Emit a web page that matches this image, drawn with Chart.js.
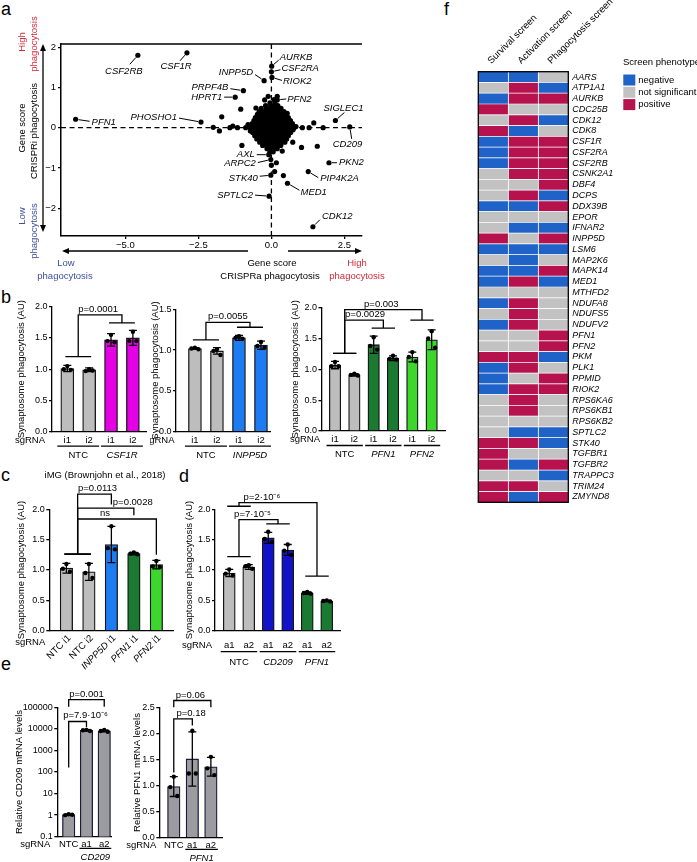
<!DOCTYPE html>
<html lang="en">
<head>
<meta charset="UTF-8">
<meta name="viewport" content="width=device-width, initial-scale=1.0">
<title>Microglia phagocytosis screens</title>
<script src="https://cdn.jsdelivr.net/npm/chart.js"></script>
<style>
    body { margin: 0; background: #fff; font-family: "Liberation Sans", Arial, sans-serif; }
    #page { position: relative; width: 697px; height: 862px; overflow: hidden; background: #fff; }
    #page canvas { position: absolute; }
    .tag { position: absolute; font-size: 18px; line-height: 18px; color: #000; }
</style>
</head>
<body>
<div id="page">
    <div class="tag" style="left:1px; top:0px;">a</div>
    <div class="tag" style="left:1px; top:288px;">b</div>
    <div class="tag" style="left:1px; top:466px;">c</div>
    <div class="tag" style="left:179px; top:467px;">d</div>
    <div class="tag" style="left:1px; top:655px;">e</div>
    <div class="tag" style="left:444px; top:0px;">f</div>
</div>

<script>
// ---------- a: CRISPRa vs CRISPRi phagocytosis gene scores ----------
const aGenes = ['PFN1', 'CSF2RB', 'CSF1R', 'PHOSHO1', 'PRPF4B', 'HPRT1', 'INPP5D', 'AURKB', 'CSF2RA', 'RIOK2', 'PFN2',
                'SIGLEC1', 'CD209', 'AXL', 'ARPC2', 'STK40', 'SPTLC2', 'MED1', 'PIP4K2A', 'PKN2', 'CDK12'];
const aGeneX = [-6.7, -4.57, -2.89, -2.41, -0.96, -1.24, -0.25, 0.01, 0.0, 0.02, 0.2,
                2.19, 2.68, -0.09, -0.02, -0.02, -0.08, 0.55, 1.26, 1.97, 1.42];
const aGeneY = [0.21, 1.80, 1.86, 0.14, 0.92, 0.76, 1.17, 1.53, 1.39, 1.25, 0.69,
                0.18, 0.02, -0.67, -0.79, -1.18, -1.70, -1.38, -1.09, -0.87, -2.46];
// unlabelled genes [CRISPRa score, CRISPRi score]
const aOther = [
    [-0.05, 0.62], [0.12, 0.62],
    [-0.2, 0.55], [-0.02, 0.55], [0.1, 0.55], [0.22, 0.55],
    [-0.35, 0.48], [-0.18, 0.48], [-0.05, 0.48], [0.08, 0.48], [0.2, 0.48], [0.33, 0.48],
    [-0.42, 0.40], [-0.3, 0.40], [-0.17, 0.40], [-0.04, 0.40], [0.07, 0.40], [0.19, 0.40], [0.31, 0.40], [0.43, 0.40],
    [-0.48, 0.33], [-0.36, 0.33], [-0.22, 0.33], [-0.1, 0.33], [0.02, 0.33], [0.14, 0.33], [0.27, 0.33], [0.4, 0.33], [0.5, 0.33],
    [-0.55, 0.25], [-0.42, 0.25], [-0.29, 0.25], [-0.16, 0.25], [-0.04, 0.25], [0.09, 0.25], [0.21, 0.25], [0.34, 0.25], [0.46, 0.25], [0.58, 0.25],
    [-0.6, 0.18], [-0.47, 0.18], [-0.35, 0.18], [-0.22, 0.18], [-0.1, 0.18], [0.03, 0.18], [0.15, 0.18], [0.28, 0.18], [0.4, 0.18], [0.53, 0.18], [0.65, 0.18],
    [-0.66, 0.10], [-0.52, 0.10], [-0.4, 0.10], [-0.27, 0.10], [-0.14, 0.10], [-0.02, 0.10], [0.1, 0.10], [0.23, 0.10], [0.35, 0.10], [0.48, 0.10], [0.6, 0.10], [0.72, 0.10],
    [-0.75, 0.03], [-0.6, 0.03], [-0.46, 0.03], [-0.33, 0.03], [-0.2, 0.03], [-0.07, 0.03], [0.05, 0.03], [0.18, 0.03], [0.31, 0.03], [0.44, 0.03], [0.57, 0.03], [0.7, 0.03], [0.84, 0.03],
    [-0.7, -0.05], [-0.56, -0.05], [-0.43, -0.05], [-0.3, -0.05], [-0.17, -0.05], [-0.05, -0.05], [0.08, -0.05], [0.21, -0.05], [0.34, -0.05], [0.47, -0.05], [0.6, -0.05], [0.74, -0.05],
    [-0.64, -0.12], [-0.5, -0.12], [-0.37, -0.12], [-0.24, -0.12], [-0.11, -0.12], [0.01, -0.12], [0.14, -0.12], [0.27, -0.12], [0.4, -0.12], [0.53, -0.12], [0.66, -0.12],
    [-0.57, -0.2], [-0.44, -0.2], [-0.31, -0.2], [-0.18, -0.2], [-0.06, -0.2], [0.07, -0.2], [0.2, -0.2], [0.33, -0.2], [0.46, -0.2], [0.58, -0.2],
    [-0.5, -0.28], [-0.37, -0.28], [-0.24, -0.28], [-0.12, -0.28], [0.01, -0.28], [0.14, -0.28], [0.27, -0.28], [0.4, -0.28], [0.52, -0.28],
    [-0.4, -0.36], [-0.28, -0.36], [-0.15, -0.36], [-0.03, -0.36], [0.1, -0.36], [0.22, -0.36], [0.35, -0.36], [0.46, -0.36],
    [-0.3, -0.44], [-0.17, -0.44], [-0.05, -0.44], [0.08, -0.44], [0.2, -0.44], [0.32, -0.44],
    [-0.15, -0.52], [-0.02, -0.52], [0.1, -0.52], [0.2, -0.52],
    [-0.05, -0.6], [0.06, -0.6],
    [-1.99, 0.01], [-1.78, -0.08], [-1.70, 0.27], [-1.42, 0.0], [-1.32, 0.04], [-1.16, 0.0], [-1.05, 0.46], [-1.01, -0.44],
    [-0.88, 0.0], [-0.8, 0.08], [-0.72, -0.08], [-0.53, 0.49], [-0.23, 0.69], [-0.11, 0.78], [0.09, 0.7], [0.2, 0.78],
    [0.48, -0.08], [0.54, 0.36], [0.65, 0.16], [0.73, -0.36], [0.78, 0.0], [1.03, -0.49], [1.06, 0.0], [1.29, 0.0],
    [1.45, 0.12], [1.57, -0.46], [1.77, 0.0], [0.0, -0.93], [0.17, -0.87], [0.11, -1.09], [0.41, -1.19], [0.03, -0.5], [0.37, -0.58]
];
const aXTicks = [-5, -2.5, 0, 2.5];
const aYTicks = [2, 1, 0, -1, -2];

// ---------- b: synaptosome phagocytosis, CRISPRi ----------
const b1Labels = ['i1', 'i2', 'i1', 'i2'];
const b1Means = [1.01, 0.99, 1.47, 1.50];
const b1Sd = [0.05, 0.03, 0.10, 0.12];
const b1Pts = [[1.05, 1.00, 0.99], [1.00, 0.97, 0.98], [1.55, 1.45, 1.43], [1.60, 1.45, 1.45]];
const b1Groups = [['NTC', 0, 1], ['CSF1R', 2, 3]];
const b1P = ['p=0.0001'];

const b2Labels = ['i1', 'i2', 'i1', 'i2'];
const b2Means = [1.02, 0.99, 1.15, 1.06];
const b2Sd = [0.01, 0.04, 0.03, 0.05];
const b2Pts = [[1.03, 1.02, 1.01], [1.01, 0.99, 0.94], [1.17, 1.15, 1.14], [1.10, 1.05, 1.03]];
const b2Groups = [['NTC', 0, 1], ['INPP5D', 2, 3]];
const b2P = ['p=0.0055'];

const b3Labels = ['i1', 'i2', 'i1', 'i2', 'i1', 'i2'];
const b3Means = [1.07, 0.91, 1.40, 1.18, 1.20, 1.48];
const b3Sd = [0.06, 0.02, 0.14, 0.04, 0.08, 0.16];
const b3Pts = [[1.12, 1.05, 1.05], [0.93, 0.91, 0.90], [1.52, 1.38, 1.32], [1.22, 1.17, 1.16], [1.28, 1.20, 1.13], [1.62, 1.50, 1.35]];
const b3Groups = [['NTC', 0, 1], ['PFN1', 2, 3], ['PFN2', 4, 5]];
const b3P = ['p=0.0029', 'p=0.003'];

// ---------- c: iMG ----------
const cTitle = 'iMG (Brownjohn et al., 2018)';
const cLabels = ['NTC i1', 'NTC i2', 'INPP5D i1', 'PFN1 i1', 'PFN2 i1'];
const cMeans = [1.03, 0.97, 1.42, 1.27, 1.09];
const cSd = [0.08, 0.14, 0.30, 0.02, 0.07];
const cPts = [[1.10, 1.02, 0.97], [1.10, 0.95, 0.87], [1.72, 1.36, 1.34], [1.29, 1.27, 1.26], [1.15, 1.06, 1.05]];
const cP = ['p=0.0113', 'p=0.0028', 'ns'];

// ---------- d: CRISPRa ----------
const dLabels = ['a1', 'a2', 'a1', 'a2', 'a1', 'a2'];
const dMeans = [0.95, 1.05, 1.53, 1.33, 0.62, 0.49];
const dSd = [0.06, 0.04, 0.09, 0.09, 0.02, 0.01];
const dPts = [[1.01, 0.94, 0.91], [1.08, 1.06, 1.02], [1.63, 1.51, 1.46], [1.42, 1.32, 1.25], [0.64, 0.62, 0.61], [0.50, 0.49, 0.48]];
const dGroups = [['NTC', 0, 1], ['CD209', 2, 3], ['PFN1', 4, 5]];
const dP = ['p=7·10⁻⁵', 'p=2·10⁻⁶'];

// ---------- e: mRNA levels ----------
const e1Labels = ['NTC', 'a1', 'a2'];
const e1Means = [1.05, 8500, 8000];
const e1Sd = [0.05, 500, 700];
const e1Pts = [[1.10, 1.00, 1.05], [9000, 8600, 8000], [8800, 7900, 7300]];
const e1Groups = [['CD209', 1, 2]];
const e1P = ['p=7.9·10⁻⁶', 'p=0.001'];

const e2Labels = ['NTC', 'a1', 'a2'];
const e2Means = [0.98, 1.51, 1.36];
const e2Sd = [0.19, 0.52, 0.18];
const e2Pts = [[1.17, 0.97, 0.80], [2.05, 1.23, 1.23], [1.55, 1.33, 1.20]];
const e2Groups = [['PFN1', 1, 2]];
const e2P = ['p=0.18', 'p=0.06'];

// ---------- f: screen phenotypes (-1 negative, 0 not significant, 1 positive) ----------
const fScreens = ['Survival screen', 'Activation screen', 'Phagocytosis screen'];
const fGenes = ['AARS', 'ATP1A1', 'AURKB', 'CDC25B', 'CDK12', 'CDK8', 'CSF1R', 'CSF2RA', 'CSF2RB', 'CSNK2A1',
                'DBF4', 'DCPS', 'DDX39B', 'EPOR', 'IFNAR2', 'INPP5D', 'LSM6', 'MAP2K6', 'MAPK14', 'MED1',
                'MTHFD2', 'NDUFA8', 'NDUFS5', 'NDUFV2', 'PFN1', 'PFN2', 'PKM', 'PLK1', 'PPMID', 'RIOK2',
                'RPS6KA6', 'RPS6KB1', 'RPS6KB2', 'SPTLC2', 'STK40', 'TGFBR1', 'TGFBR2', 'TRAPPC3', 'TRIM24', 'ZMYND8'];
const fSurvival = [-1, 0, -1, 1, 0, 1, -1, -1, -1, 0, 0, 0, -1, 0, 0, 1, -1, 0, -1, -1,
                   0, -1, 0, -1, 0, 0, 1, -1, -1, -1, 0, 0, 0, 0, 1, 1, 1, 0, 1, 1];
const fActivation = [-1, 1, 1, 0, 1, -1, 1, 1, 1, 1, 0, 1, -1, 0, -1, 0, -1, -1, -1, 1,
                     0, 1, 1, 1, 0, 0, 1, 1, 0, 1, 1, 1, 0, -1, 1, 0, -1, 0, 1, -1];
const fPhagocytosis = [0, -1, 1, 0, -1, 0, 1, 1, 1, 1, 1, -1, 1, 0, -1, 1, -1, 0, 1, -1,
                       0, 0, 0, 0, 1, 1, -1, 0, 1, 1, 0, 0, 0, -1, -1, 0, 1, -1, 0, 1];
const fLegend = ['negative', 'not significant', 'positive'];

// ================= drawing =================
const FONT = '"Liberation Sans", Arial, sans-serif';
Chart.defaults.font.family = FONT;
Chart.defaults.font.size = 9.5;
Chart.defaults.color = '#000';

const RED = '#d42a3a', BLUE = '#3e4e9c';
const GRAY = '#bdbdbd';
const heatColor = ['#1f62c8', '#c2c2c2', '#b5124e'];

function addCanvas(x, y, w, h) {
    const c = document.createElement('canvas');
    c.width = w; c.height = h;
    c.style.left = x + 'px'; c.style.top = y + 'px';
    c.style.width = w + 'px'; c.style.height = h + 'px';
    document.getElementById('page').appendChild(c);
    return c;
}

function txt(ctx, s, x, y, o) {
    o = o || {};
    ctx.save();
    ctx.font = (o.italic ? 'italic ' : '') + (o.size || 9.5) + 'px ' + FONT;
    ctx.fillStyle = o.color || '#000';
    ctx.textAlign = o.align || 'center';
    ctx.textBaseline = o.base || 'middle';
    ctx.translate(x, y);
    if (o.rot) ctx.rotate(o.rot);
    ctx.fillText(s, 0, 0);
    ctx.restore();
}

function arrow(ctx, x1, y1, x2, y2) {
    const a = Math.atan2(y2 - y1, x2 - x1), c = Math.cos(a), s = Math.sin(a);
    ctx.beginPath(); ctx.moveTo(x1, y1); ctx.lineTo(x2 - c * 4, y2 - s * 4); ctx.stroke();
    ctx.beginPath(); ctx.moveTo(x2, y2);
    ctx.lineTo(x2 - c * 7 + s * 3, y2 - s * 7 - c * 3);
    ctx.lineTo(x2 - c * 7 - s * 3, y2 - s * 7 + c * 3);
    ctx.closePath(); ctx.fill();
}

const minus = s => String(s).replace('-', '−');

// ---------- panel a ----------
// label placement: text offset, alignment, end of leader line (px from point)
const aLabelPos = {
    PFN1: [16, 3, 'left', 14, 2], CSF2RB: [-14, 16, 'center', -8, 9], CSF1R: [-11, 14, 'center', -7, 8],
    PHOSHO1: [-24, -5, 'right', -22, -4], PRPF4B: [-15, -3, 'right', -13, -2], HPRT1: [-13, 0, 'right', -11, 0],
    INPP5D: [-11, -8, 'right', -9, -6], AURKB: [8, -9, 'left', 7, -6], CSF2RA: [10, -3, 'left', 9, -2],
    RIOK2: [11, 4, 'left', 10, 3], PFN2: [10, -1, 'left', 9, -1], SIGLEC1: [-12, -12, 'left', 9, -8],
    CD209: [-17, 17, 'left', 2, 12], AXL: [-14, 0, 'right', -12, 0], ARPC2: [-15, 4, 'right', -13, 3],
    STK40: [-13, 3, 'right', -11, 1], SPTLC2: [-16, -1, 'right', -14, -1], MED1: [13, 9, 'left', 12, 7],
    PIP4K2A: [12, 7, 'left', 10, 6], PKN2: [10, 0, 'left', 8, 0], CDK12: [9, -10, 'left', 7, -7]
};

const aDecor = {
    id: 'aDecor',
    beforeDatasetsDraw(chart) {
        const { ctx, chartArea: ca, scales: { x, y } } = chart;
        const x0 = x.getPixelForValue(0), y0 = y.getPixelForValue(0);
        ctx.save();
        ctx.strokeStyle = '#000'; ctx.lineWidth = 1.3; ctx.setLineDash([5, 3.5]);
        ctx.beginPath();
        ctx.moveTo(x0, ca.top); ctx.lineTo(x0, ca.bottom);
        ctx.moveTo(ca.left, y0); ctx.lineTo(ca.right, y0);
        ctx.stroke();
        ctx.restore();
    },
    afterDraw(chart) {
        const { ctx, chartArea: ca, scales: { x, y } } = chart;
        ctx.save();
        ctx.strokeStyle = '#000'; ctx.fillStyle = '#000'; ctx.lineWidth = 1.5;
        // top frame line
        ctx.beginPath(); ctx.moveTo(ca.left, ca.top); ctx.lineTo(ca.right, ca.top); ctx.stroke();

        // gene labels with leader lines
        ctx.lineWidth = 1;
        aGenes.forEach((g, i) => {
            const lp = aLabelPos[g];
            const px = x.getPixelForValue(aGeneX[i]), py = y.getPixelForValue(aGeneY[i]);
            const len = Math.hypot(lp[3], lp[4]);
            ctx.beginPath();
            ctx.moveTo(px + lp[3] / len * 3, py + lp[4] / len * 3);
            ctx.lineTo(px + lp[3], py + lp[4]);
            ctx.stroke();
            txt(ctx, g, px + lp[0], py + lp[1], { italic: true, align: lp[2] });
        });

        // axis arrows
        ctx.lineWidth = 1.3;
        arrow(ctx, 43, 138, 43, ca.top);
        arrow(ctx, 43, 138, 43, ca.bottom - 4);
        arrow(ctx, 248, 251, ca.left + 1, 251);
        arrow(ctx, 288, 251, ca.right, 251);
        ctx.restore();

        const up = -Math.PI / 2;
        txt(ctx, 'High', 22, 42, { rot: up, color: RED });
        txt(ctx, 'phagocytosis', 34, 44, { rot: up, color: RED });
        txt(ctx, 'Gene score', 22, 128, { rot: up });
        txt(ctx, 'CRISPRi phagocytosis', 34, 131, { rot: up });
        txt(ctx, 'Low', 22, 216, { rot: up, color: BLUE });
        txt(ctx, 'phagocytosis', 34, 231, { rot: up, color: BLUE });
        txt(ctx, 'Low', 66, 263, { color: BLUE });
        txt(ctx, 'phagocytosis', 65, 276, { color: BLUE });
        txt(ctx, 'Gene score', 272, 263);
        txt(ctx, 'CRISPRa phagocytosis', 270, 276);
        txt(ctx, 'High', 357, 263, { color: RED });
        txt(ctx, 'phagocytosis', 357, 276, { color: RED });
    }
};

new Chart(addCanvas(0, 0, 395, 300), {
    type: 'scatter',
    data: {
        datasets: [
            { data: aOther.map(p => ({ x: p[0], y: p[1] })), pointRadius: 2.6, backgroundColor: '#000', borderWidth: 0 },
            { data: aGenes.map((g, i) => ({ x: aGeneX[i], y: aGeneY[i] })), pointRadius: 2.6, backgroundColor: '#000', borderWidth: 0 }
        ]
    },
    options: {
        responsive: false, animation: false, events: [],
        layout: { padding: { top: 44, right: 33, left: 0, bottom: 0 } },
        plugins: { legend: { display: false }, tooltip: { enabled: false } },
        scales: {
            x: {
                type: 'linear', min: -7.2, max: 3.1,
                afterFit: s => { s.height = 64; },
                afterBuildTicks: s => { s.ticks = aXTicks.map(v => ({ value: v })); },
                ticks: { callback: v => minus(v.toFixed(1)), padding: 1, maxRotation: 0 },
                grid: { drawOnChartArea: false, tickLength: 3, color: '#000', lineWidth: 1.3 },
                border: { color: '#000', width: 1.5 }
            },
            y: {
                type: 'linear', min: -2.69, max: 2.08,
                afterFit: s => { s.width = 61; },
                afterBuildTicks: s => { s.ticks = aYTicks.map(v => ({ value: v })); },
                ticks: { callback: v => minus(v), padding: 2 },
                grid: { drawOnChartArea: false, tickLength: 3, color: '#000', lineWidth: 1.3 },
                border: { color: '#000', width: 1.5 }
            }
        }
    },
    plugins: [aDecor]
});

// ---------- bar panels ----------
function drawBracket(ctx, x, y, b, text) {
    const xl1 = x.getPixelForValue(b.l[0]) - 2, xl2 = x.getPixelForValue(b.l[1]) + 2;
    const xr1 = x.getPixelForValue(b.r[0]) - 2, xr2 = x.getPixelForValue(b.r[1]) + 2;
    const xl = (xl1 + xl2) / 2, xr = (xr1 + xr2) / 2;
    const yl = y.getPixelForValue(b.yl), yr = y.getPixelForValue(b.yr), yt = y.getPixelForValue(b.top);
    ctx.beginPath();
    if (b.l[0] !== b.l[1]) { ctx.moveTo(xl1, yl); ctx.lineTo(xl2, yl); }
    ctx.moveTo(xl, yl); ctx.lineTo(xl, yt); ctx.lineTo(xr, yt); ctx.lineTo(xr, yr);
    if (b.r[0] !== b.r[1]) { ctx.moveTo(xr1, yr); ctx.lineTo(xr2, yr); }
    ctx.stroke();
    txt(ctx, text, (xl + xr) / 2 + (b.dx || 0), yt - 3, { base: 'alphabetic' });
}

function barDecor(p) {
    return {
        id: 'barDecor',
        afterDatasetsDraw(chart) {
            const { ctx, scales: { x, y } } = chart;
            ctx.save();
            ctx.strokeStyle = '#000'; ctx.fillStyle = '#000'; ctx.lineWidth = 1.3;
            p.means.forEach((m, i) => {
                const cx = x.getPixelForValue(i);
                const yHi = y.getPixelForValue(m + p.sd[i]), yLo = y.getPixelForValue(m - p.sd[i]);
                ctx.beginPath();
                ctx.moveTo(cx, yLo); ctx.lineTo(cx, yHi);
                ctx.moveTo(cx - 4, yHi); ctx.lineTo(cx + 4, yHi);
                ctx.moveTo(cx - 4, yLo); ctx.lineTo(cx + 4, yLo);
                ctx.stroke();
                p.pts[i].forEach((v, k) => {
                    ctx.beginPath();
                    ctx.arc(cx + [0, -3.5, 3.5][k], y.getPixelForValue(v), 2.2, 0, 2 * Math.PI);
                    ctx.fill();
                });
            });
            ctx.restore();
        },
        afterDraw(chart) {
            const { ctx, chartArea: ca, scales: { x, y } } = chart;
            ctx.save();
            ctx.strokeStyle = '#000'; ctx.lineWidth = 1.3;
            p.brackets.forEach((b, i) => drawBracket(ctx, x, y, b, p.pvals[i]));

            if (p.rotLabels) {
                txt(ctx, 'sgRNA', ca.left - p.sgDx, ca.bottom + 12, { align: 'right' });
                p.labels.forEach((l, i) => {
                    const parts = l.split(' ');
                    ctx.save();
                    ctx.translate(x.getPixelForValue(i) + 3, ca.bottom + 6);
                    ctx.rotate(-Math.PI / 4);
                    ctx.fillStyle = '#000';
                    ctx.textBaseline = 'middle'; ctx.textAlign = 'right';
                    ctx.font = '9.5px ' + FONT;
                    ctx.fillText(' ' + parts[1], 0, 0);
                    const w = ctx.measureText(' ' + parts[1]).width;
                    ctx.font = (parts[0] === 'NTC' ? '' : 'italic ') + '9.5px ' + FONT;
                    ctx.fillText(parts[0], -w, 0);
                    ctx.restore();
                });
            } else {
                txt(ctx, 'sgRNA', ca.left - p.sgDx, ca.bottom + p.tickPad + 5.7, { align: 'right' });
                p.groups.forEach(g => {
                    const x1 = x.getPixelForValue(g[1]) - p.grpW, x2 = x.getPixelForValue(g[2]) + p.grpW;
                    ctx.beginPath();
                    ctx.moveTo(x1, ca.bottom + p.grpLine); ctx.lineTo(x2, ca.bottom + p.grpLine);
                    ctx.stroke();
                    txt(ctx, g[0], (x1 + x2) / 2, ca.bottom + p.grpText, { italic: g[0] !== 'NTC', base: 'top' });
                });
            }
            ctx.restore();
            if (p.topText) txt(ctx, p.topText, p.topTextPos[0], p.topTextPos[1]);
        }
    };
}

function barPanel(p) {
    const [bx, by, bw, bh] = p.box;
    const [al, at, ar, ab] = p.area;
    return new Chart(addCanvas(bx, by, bw, bh), {
        type: 'bar',
        data: {
            datasets: [{
                data: p.means.map((v, i) => ({ x: i, y: v })),
                backgroundColor: p.colors,
                borderColor: p.edge || '#161616',
                borderWidth: 1.3,
                barThickness: p.barW
            }]
        },
        options: {
            responsive: false, animation: false, events: [],
            layout: { padding: { top: at - by, right: bx + bw - ar, left: 0, bottom: 0 } },
            plugins: { legend: { display: false }, tooltip: { enabled: false } },
            scales: {
                x: {
                    type: 'linear', offset: false, min: p.xRange[0], max: p.xRange[1],
                    afterFit: s => { s.height = by + bh - ab; },
                    afterBuildTicks: s => { s.ticks = p.labels.map((l, i) => ({ value: i })); },
                    ticks: { display: !p.rotLabels, callback: v => p.labels[v], padding: p.tickPad, maxRotation: 0, autoSkip: false },
                    grid: { display: false, drawTicks: false },
                    border: { color: '#000', width: 1.3 }
                },
                y: {
                    type: p.log ? 'logarithmic' : 'linear',
                    min: p.yTicks[0], max: p.yTicks[p.yTicks.length - 1],
                    afterFit: s => { s.width = al - bx; },
                    afterBuildTicks: s => { s.ticks = p.yTicks.map(v => ({ value: v })); },
                    ticks: { callback: p.yFmt, padding: 1.5, font: { size: 9 } },
                    grid: { drawOnChartArea: false, tickLength: 3, color: '#000', lineWidth: 1.3 },
                    border: { color: '#000', width: 1.3 },
                    title: { display: true, text: p.yTitle, padding: { top: p.titleX - bx - 5.7, bottom: 0 } }
                }
            }
        },
        plugins: [barDecor(p)]
    });
}

const fix1 = v => v.toFixed(1);
const synTitle = 'Synaptosome phagocytosis (AU)';

barPanel({
    box: [0, 290, 150, 180], area: [52, 306.7, 146, 431.7], xRange: [-0.70, 3.6], barW: 13,
    labels: b1Labels, means: b1Means, sd: b1Sd, pts: b1Pts, groups: b1Groups, pvals: b1P,
    colors: [GRAY, GRAY, '#e600e6', '#e600e6'],
    yTicks: [0, 0.5, 1, 1.5, 2], yFmt: fix1, yTitle: synTitle, titleX: 21.7,
    tickPad: 3, sgDx: 7, grpW: 10, grpLine: 14.5, grpText: 19,
    brackets: [{ l: [0, 1], yl: 1.2, r: [2, 3], yr: 1.74, top: 1.87, dx: -2 }]
});

barPanel({
    box: [150, 290, 125, 180], area: [176, 309.3, 270, 431.7], xRange: [-0.86, 3.41], barW: 13,
    labels: b2Labels, means: b2Means, sd: b2Sd, pts: b2Pts, groups: b2Groups, pvals: b2P,
    colors: [GRAY, GRAY, '#1e7cf2', '#1e7cf2'],
    yTicks: [0, 0.5, 1, 1.5], yFmt: fix1, yTitle: synTitle, titleX: 155.5,
    tickPad: 3, sgDx: 1.5, grpW: 10, grpLine: 14.5, grpText: 19,
    brackets: [{ l: [0, 1], yl: 1.125, r: [2, 3], yr: 1.28, top: 1.34, dx: 0 }]
});

barPanel({
    box: [280, 290, 170, 180], area: [321.5, 307.7, 445, 431], xRange: [-0.70, 5.69], barW: 11.5,
    labels: b3Labels, means: b3Means, sd: b3Sd, pts: b3Pts, groups: b3Groups, pvals: b3P,
    colors: [GRAY, GRAY, '#1a7a32', '#1a7a32', '#3cd62c', '#3cd62c'],
    yTicks: [0, 0.5, 1, 1.5, 2], yFmt: fix1, yTitle: synTitle, titleX: 295,
    tickPad: 3, sgDx: 1.5, grpW: 8.5, grpLine: 14.5, grpText: 19,
    brackets: [
        { l: [0, 1], yl: 1.26, r: [2, 3], yr: 1.67, top: 1.80, dx: 1 },
        { l: [0, 1], yl: 1.26, r: [4, 5], yr: 1.80, top: 1.97, dx: -2 }
    ]
});

barPanel({
    box: [0, 462, 178, 218], area: [49.3, 509.3, 173, 630.7], xRange: [-0.76, 4.74], barW: 12.5,
    labels: cLabels, means: cMeans, sd: cSd, pts: cPts, groups: [], pvals: cP, rotLabels: true,
    colors: [GRAY, GRAY, '#1e7cf2', '#1a7a32', '#3cd62c'],
    yTicks: [0, 0.5, 1, 1.5, 2], yFmt: fix1, yTitle: synTitle, titleX: 21.7,
    tickPad: 3, sgDx: 4,
    topText: cTitle, topTextPos: [105, 13],
    brackets: [
        { l: [0, 1], yl: 1.26, r: [2, 2], yr: 2.08, top: 2.25, dx: 3 },
        { l: [0, 1], yl: 1.26, r: [3, 3], yr: 1.90, top: 2.02, dx: 27 },
        { l: [0, 1], yl: 1.26, r: [4, 4], yr: 1.25, top: 1.84, dx: -12 }
    ]
});

barPanel({
    box: [180, 462, 170, 208], area: [215, 509.3, 340, 630.7], xRange: [-0.73, 5.68], barW: 12,
    labels: dLabels, means: dMeans, sd: dSd, pts: dPts, groups: dGroups, pvals: dP,
    colors: [GRAY, GRAY, '#1212c8', '#1212c8', '#1a7a32', '#1a7a32'],
    yTicks: [0, 0.5, 1, 1.5, 2], yFmt: fix1, yTitle: synTitle, titleX: 189,
    tickPad: 9, sgDx: 3, grpW: 8.5, grpLine: 21, grpText: 27,
    brackets: [
        { l: [0, 1], yl: 1.22, r: [2, 3], yr: 1.76, top: 1.83, dx: -6 },
        { l: [0, 1], yl: 2.05, r: [4, 5], yr: 0.90, top: 2.11, dx: -16 }
    ]
});

barPanel({
    box: [0, 680, 115, 182], area: [57.3, 707.3, 111, 836.7], xRange: [-0.64, 2.38], barW: 12.5, log: true,
    labels: e1Labels, means: e1Means, sd: e1Sd, pts: e1Pts, groups: e1Groups, pvals: e1P,
    colors: ['#9b9ba0', '#9b9ba0', '#9b9ba0'], edge: '#1b1b3a',
    yTicks: [0.1, 1, 10, 100, 1000, 10000, 100000], yFmt: v => String(v),
    yTitle: 'Relative CD209 mRNA levels', titleX: 19,
    tickPad: 2, sgDx: 7, grpW: 7, grpLine: 11.6, grpText: 15.5,
    brackets: [
        { l: [0, 0], yl: 160, r: [1, 1], yr: 12000, top: 22000, dx: 8 },
        { l: [0, 0], yl: 105000, r: [2, 2], yr: 105000, top: 228000, dx: 0 }
    ]
});

barPanel({
    box: [115, 680, 112, 182], area: [159.3, 707.3, 222, 837.7], xRange: [-0.78, 2.6], barW: 12.5,
    labels: e2Labels, means: e2Means, sd: e2Sd, pts: e2Pts, groups: e2Groups, pvals: e2P,
    colors: ['#9b9ba0', '#9b9ba0', '#9b9ba0'], edge: '#1b1b3a',
    yTicks: [0, 0.5, 1, 1.5, 2, 2.5], yFmt: fix1,
    yTitle: 'Relative PFN1 mRNA levels', titleX: 137,
    tickPad: 2, sgDx: 3, grpW: 7, grpLine: 11.6, grpText: 15.5,
    brackets: [
        { l: [0, 0], yl: 1.25, r: [1, 1], yr: 2.15, top: 2.28, dx: 8 },
        { l: [0, 0], yl: 2.5, r: [2, 2], yr: 2.5, top: 2.63, dx: -2 }
    ]
});

// ---------- panel f: heatmap ----------
const fDecor = {
    id: 'fDecor',
    afterDraw(chart) {
        const { ctx, chartArea: ca, scales: { x } } = chart;
        ctx.save();
        ctx.strokeStyle = '#000'; ctx.lineWidth = 1.3;
        ctx.strokeRect(ca.left, ca.top, ca.right - ca.left, ca.bottom - ca.top);
        ctx.restore();
        fScreens.forEach((s, j) => {
            txt(ctx, s, x.getPixelForValue(j + 0.5) - 2, ca.top - 7.5, { align: 'left', base: 'alphabetic', rot: -Math.PI / 4 });
        });
        txt(ctx, 'Screen phenotype', 243, 62, { align: 'left' });
        fLegend.forEach((l, k) => {
            const yc = 80 + k * 12.3;
            ctx.fillStyle = heatColor[k];
            ctx.fillRect(243.3, yc - 5.5, 12, 11);
            txt(ctx, l, 258.3, yc, { align: 'left' });
        });
    }
};

new Chart(addCanvas(380, 0, 317, 512), {
    type: 'bar',
    data: {
        labels: fGenes,
        datasets: [fSurvival, fActivation, fPhagocytosis].map((col, j) => ({
            data: col.map((v, i) => ({ y: fGenes[i], x: [j, j + 1] })),
            backgroundColor: col.map(v => heatColor[v + 1]),
            borderColor: '#fff', borderWidth: 0.7, borderSkipped: false,
            barPercentage: 1, categoryPercentage: 1, grouped: false
        }))
    },
    options: {
        indexAxis: 'y', responsive: false, animation: false, events: [],
        layout: { padding: { left: 98.3, top: 71.7, bottom: 9.7, right: 0 } },
        plugins: { legend: { display: false }, tooltip: { enabled: false } },
        scales: {
            x: { type: 'linear', min: 0, max: 3, display: false },
            y: {
                type: 'category', position: 'right', offset: true,
                afterFit: s => { s.width = 128.7; },
                ticks: { font: { style: 'italic', size: 9 }, padding: 4, autoSkip: false },
                grid: { display: false, drawTicks: false },
                border: { display: false }
            }
        }
    },
    plugins: [fDecor]
});
</script>
</body>
</html>
